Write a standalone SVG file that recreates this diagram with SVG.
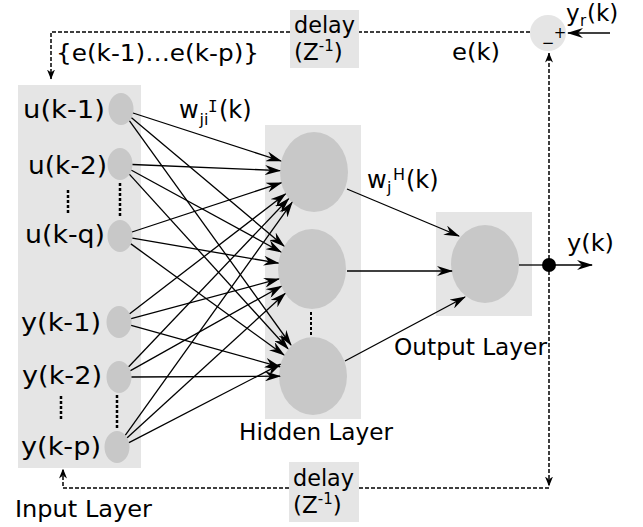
<svg xmlns="http://www.w3.org/2000/svg" width="643" height="527" viewBox="0 0 643 527">
<style>
text{font-family:"DejaVu Sans","Liberation Sans",sans-serif;fill:#000}
.f23{font-size:23px}
.f24{font-size:24px}
.sm{font-size:16px}
.pm{font-size:15px}
.serif{font-family:"DejaVu Sans Mono","Liberation Mono",monospace}
.layer{fill:#e5e5e5}
.node{fill:#c8c8c8}
.c{stroke:#000;stroke-width:1.3;fill:none;marker-end:url(#ah)}
.d{stroke:#000;stroke-width:1.5;fill:none;stroke-dasharray:4 2}
.dots{stroke:#000;stroke-width:2.5;stroke-dasharray:3 2}
</style>
<defs>
<marker id="ah" markerUnits="userSpaceOnUse" viewBox="0 0 16 10" markerWidth="16" markerHeight="10" refX="15" refY="5" orient="auto">
<path d="M0,0 L16,5 L0,10 L5,5 Z" fill="#000"/>
</marker>
<marker id="sh" markerUnits="userSpaceOnUse" viewBox="0 0 10 8" markerWidth="10" markerHeight="8" refX="9.5" refY="4" orient="auto">
<path d="M0,0 L10,4 L0,8 L3,4 Z" fill="#000"/>
</marker>
</defs>
<rect width="643" height="527" fill="#fff"/>

<g id="input-layer">
<rect class="layer" x="18" y="85" width="123" height="383"/>
<line class="dots" x1="68" y1="190" x2="68" y2="215"/>
<line class="dots" x1="120" y1="183" x2="120" y2="217"/>
<line class="dots" x1="61" y1="396" x2="61" y2="420"/>
<line class="dots" x1="117" y1="395" x2="117" y2="429"/>
<text class="f23" x="15" y="517" textLength="137" lengthAdjust="spacingAndGlyphs">Input Layer</text>
</g>
<g id="in-u1"><ellipse class="node" cx="121" cy="109" rx="12.5" ry="16"/><text class="f24" x="23" y="118" textLength="82" lengthAdjust="spacingAndGlyphs">u(k-1)</text></g>
<g id="in-u2"><ellipse class="node" cx="120" cy="164" rx="12.5" ry="16"/><text class="f24" x="28" y="174" textLength="79" lengthAdjust="spacingAndGlyphs">u(k-2)</text></g>
<g id="in-uq"><ellipse class="node" cx="120" cy="236" rx="12.5" ry="16"/><text class="f24" x="25" y="243" textLength="80" lengthAdjust="spacingAndGlyphs">u(k-q)</text></g>
<g id="in-y1"><ellipse class="node" cx="119" cy="322" rx="12.5" ry="16"/><text class="f24" x="21" y="331" textLength="80" lengthAdjust="spacingAndGlyphs">y(k-1)</text></g>
<g id="in-y2"><ellipse class="node" cx="119" cy="377" rx="12.5" ry="16"/><text class="f24" x="22" y="384" textLength="80" lengthAdjust="spacingAndGlyphs">y(k-2)</text></g>
<g id="in-yp"><ellipse class="node" cx="117" cy="447" rx="12.5" ry="16"/><text class="f24" x="21" y="455" textLength="80" lengthAdjust="spacingAndGlyphs">y(k-p)</text></g>

<g id="hidden-layer">
<rect class="layer" x="265" y="125" width="96" height="294"/>
<line x1="311" y1="312" x2="311" y2="335" stroke="#000" stroke-width="2" stroke-dasharray="3 2"/>
<text class="f23" x="239" y="440" textLength="154" lengthAdjust="spacingAndGlyphs">Hidden Layer</text>
</g>
<g id="h1"><ellipse class="node" cx="314" cy="172" rx="34" ry="40"/></g>
<g id="h2"><ellipse class="node" cx="312" cy="269" rx="34" ry="40"/></g>
<g id="h3"><ellipse class="node" cx="313" cy="376" rx="34" ry="39"/></g>

<g id="output-layer">
<rect class="layer" x="436" y="212" width="96" height="104"/>
<ellipse class="node" cx="485" cy="264" rx="34" ry="39"/>
<text class="f23" x="394" y="355" textLength="153" lengthAdjust="spacingAndGlyphs">Output Layer</text>
</g>

<g id="sum">
<circle cx="548" cy="33" r="18" fill="#e5e5e5"/>
<text class="pm" x="560" y="38" text-anchor="middle">+</text>
<text class="pm" x="548" y="48" text-anchor="middle">−</text>
</g>

<g id="delay-top">
<rect class="layer" x="290" y="10" width="69" height="58"/>
<text class="f23" x="294" y="33" textLength="61" lengthAdjust="spacingAndGlyphs">delay</text>
<text class="f23" x="294" y="60">(Z<tspan class="pm" dy="-9">-1</tspan><tspan dy="9">)</tspan></text>
</g>
<g id="delay-bottom">
<rect class="layer" x="289" y="462" width="70" height="60"/>
<text class="f23" x="293" y="486" textLength="61" lengthAdjust="spacingAndGlyphs">delay</text>
<text class="f23" x="293" y="513">(Z<tspan class="pm" dy="-9">-1</tspan><tspan dy="9">)</tspan></text>
</g>

<g id="labels">
<text class="f23" x="56" y="61" textLength="203" lengthAdjust="spacingAndGlyphs">{e(k-1)…e(k-p)}</text>
<text class="f23" x="452" y="60" textLength="48" lengthAdjust="spacingAndGlyphs">e(k)</text>
<text class="f23" x="567" y="251" textLength="47" lengthAdjust="spacingAndGlyphs">y(k)</text>
<text class="f23" x="566" y="21">y<tspan class="pm" x="580" dy="5">r</tspan><tspan x="587" dy="-5">(k)</tspan></text>
<text class="f24" x="179" y="118">w<tspan class="sm" x="199.5" dy="7">ji</tspan><tspan class="sm serif" x="208" dy="-13">I</tspan><tspan x="219" dy="6">(k)</tspan></text>
<text class="f24" x="367" y="188">w<tspan class="sm" x="387" dy="5">j</tspan><tspan class="sm" x="393" dy="-13">H</tspan><tspan x="406" dy="8">(k)</tspan></text>
</g>

<g id="connectors">
<line class="c" x1="133" y1="113" x2="281" y2="161"/>
<line class="c" x1="131.5" y1="117.8" x2="284" y2="246"/>
<line class="c" x1="129.5" y1="120.8" x2="291" y2="345"/>
<line class="c" x1="132.5" y1="164.5" x2="280" y2="170.6"/>
<line class="c" x1="131.5" y1="170.3" x2="281" y2="252"/>
<line class="c" x1="129.5" y1="174.4" x2="288" y2="348.7"/>
<line class="c" x1="132" y1="232" x2="281.3" y2="182.8"/>
<line class="c" x1="132.4" y1="238.1" x2="278.4" y2="263.2"/>
<line class="c" x1="130.9" y1="243.9" x2="284" y2="355"/>
<line class="c" x1="129.7" y1="313.8" x2="285.5" y2="193.9"/>
<line class="c" x1="131.2" y1="318.6" x2="278.9" y2="278.9"/>
<line class="c" x1="131.2" y1="325.4" x2="279.9" y2="366.8"/>
<line class="c" x1="128.7" y1="366.8" x2="288.6" y2="198.7"/>
<line class="c" x1="130.5" y1="370.6" x2="281.3" y2="286.2"/>
<line class="c" x1="131.5" y1="377" x2="280" y2="376.2"/>
<line class="c" x1="125.4" y1="435.2" x2="292.1" y2="202.4"/>
<line class="c" x1="127.2" y1="437.7" x2="285.1" y2="293.5"/>
<line class="c" x1="129" y1="442.6" x2="280.5" y2="364.2"/>
<line class="c" x1="347" y1="189" x2="459" y2="236"/>
<line class="c" x1="347" y1="271" x2="452" y2="271"/>
<line class="c" x1="345" y1="361" x2="465" y2="297"/>
<line x1="519" y1="265" x2="549" y2="265" stroke="#000" stroke-width="1.3"/>
<line class="c" x1="549" y1="265" x2="592" y2="265"/>
<circle cx="549" cy="265" r="7" fill="#000"/>
<line class="c" x1="610" y1="33" x2="568" y2="33"/>
<path class="d" d="M549,265 V53" marker-end="url(#sh)"/>
<path class="d" d="M549,265 V486" marker-end="url(#sh)"/>
<path class="d" d="M549,488 H359"/>
<path class="d" d="M289,488 H63 V469" marker-end="url(#sh)"/>
<path class="d" d="M530,32 H359"/>
<path class="d" d="M290,32 H51 V79" marker-end="url(#sh)"/>
</g>
</svg>
